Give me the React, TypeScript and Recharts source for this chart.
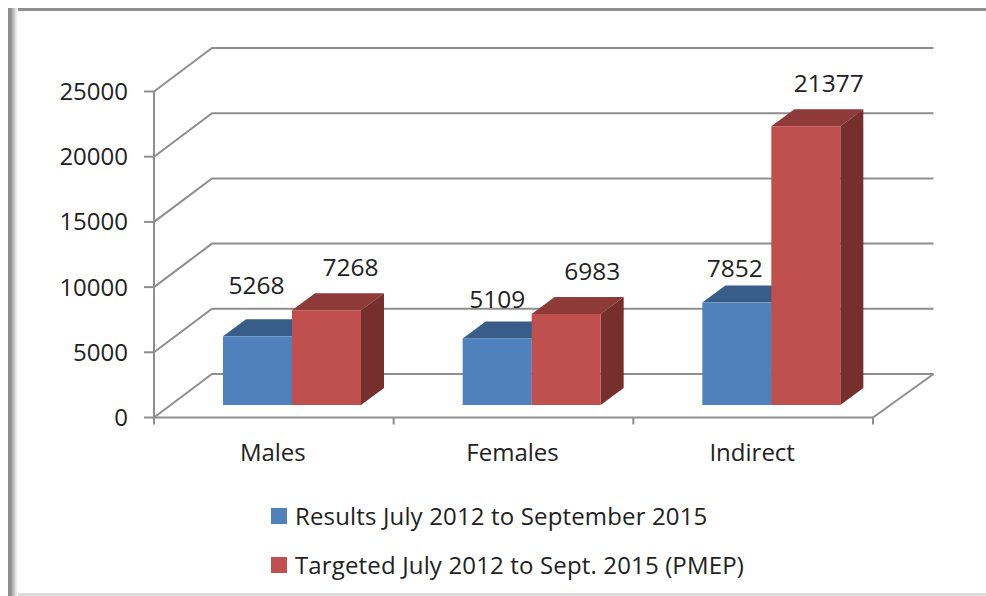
import React from "react";
import { BarChart, Bar, XAxis, YAxis, CartesianGrid, LabelList, Legend } from "recharts";

const categories = ["Males", "Females", "Indirect"];
const resultsValues = [5268, 5109, 7852];
const targetValues = [7268, 6983, 21377];
const yTicks = [0, 5000, 10000, 15000, 20000, 25000];
const seriesNames = ["Results July 2012 to September 2015", "Targeted July 2012 to Sept. 2015 (PMEP)"];

const rows = categories.map((name, i) => ({ name, results: resultsValues[i], target: targetValues[i] }));

const W = 986, H = 596;
const PLOT_L = 154, PLOT_R = 873, PLOT_T = 91.5, PLOT_B = 417.5;
const BAND = (PLOT_R - PLOT_L) / 3;
const WALL_DX = 58, WALL_DY = 43.5, WALL_R = 933.5;
const BAR_DX = 18, BAR_DY = -12.5, DEPTH_X = 23, DEPTH_Y = 17;
const LEGEND_H = 98;
const GRID = "#8e8e8e";
const FONT = "'Open Sans', sans-serif";
const FS = 24;
const INK = "#222";

const blueNudge = [{ dx: -1, dy: -52 }, { dx: 0, dy: -40 }, { dx: -2, dy: -35 }];
const redNudge = [{ dx: 24, dy: -44 }, { dx: 26, dy: -43 }, { dx: 23, dy: -44 }];

function make3D(front: string, top: string, side: string) {
  return (p: any) => {
    const x = p.x + BAR_DX, y = p.y + BAR_DY, w = p.width, h = p.height;
    return (
      <g>
        <polygon points={`${x},${y} ${x + DEPTH_X},${y - DEPTH_Y} ${x + w + DEPTH_X},${y - DEPTH_Y} ${x + w},${y}`} fill={top} />
        <polygon points={`${x + w},${y} ${x + w + DEPTH_X},${y - DEPTH_Y} ${x + w + DEPTH_X},${y + h - DEPTH_Y} ${x + w},${y + h}`} fill={side} />
        <rect x={x} y={y} width={w} height={h} fill={front} />
      </g>
    );
  };
}

function makeLabel(nudge: { dx: number; dy: number }[]) {
  return (p: any) => {
    const n = nudge[p.index] ?? { dx: 0, dy: 0 };
    return (
      <text x={p.x + BAR_DX + p.width / 2 + n.dx} y={p.y + BAR_DY + n.dy} textAnchor="middle" dominantBaseline="central"
        fontFamily={FONT} fontSize={FS + 0.5} fill={INK}>
        {p.value}
      </text>
    );
  };
}

const gridLine = (p: any) => {
  const { x1, y1, index } = p;
  const y = y1;
  const by = y - WALL_DY;
  const bx = x1 + WALL_DX;
  return (
    <g key={`g${index}`}>
      <polyline points={`${x1},${y} ${bx},${by} ${WALL_R},${by}`} fill="none" stroke={GRID} strokeWidth={2} />
      {Math.abs(y - PLOT_B) < 1 && <line x1={WALL_R} y1={by} x2={PLOT_R} y2={y} stroke={GRID} strokeWidth={2} />}
    </g>
  );
};

const CategoryTick = (p: any) => {
  const { x, payload, index } = p;
  const left = x - BAND / 2;
  return (
    <g>
      <line x1={left} y1={PLOT_B} x2={left} y2={PLOT_B + 7} stroke={GRID} strokeWidth={2} />
      {index === categories.length - 1 && (
        <line x1={left + BAND} y1={PLOT_B} x2={left + BAND} y2={PLOT_B + 7} stroke={GRID} strokeWidth={2} />
      )}
      <text x={x - 1} y={451.5} textAnchor="middle" dominantBaseline="central" fontFamily={FONT} fontSize={FS} fill={INK}>
        {payload.value}
      </text>
    </g>
  );
};

const legendColors = ["#4f81bd", "#c0504d"];
const LegendBox = () => (
  <div style={{ fontFamily: FONT, fontSize: FS, color: INK, letterSpacing: 0.15 }}>
    {seriesNames.map((s, i) => (
      <div key={s} style={{ display: "flex", alignItems: "center", height: LEGEND_H / 2, whiteSpace: "nowrap" }}>
        <span style={{ width: 16, height: 16, background: legendColors[i], marginRight: 8, display: "inline-block" }} />
        <span>{s}</span>
      </div>
    ))}
  </div>
);

export default function App() {
  return (
    <div style={{ position: "absolute", left: 0, top: 0, width: W, height: H, background: "#fff", overflow: "hidden" }}>
      <div style={{ position: "absolute", left: 8, top: 8, right: 0, height: 3, background: "#8f8f8f" }} />
      <div style={{ position: "absolute", left: 8, top: 8, bottom: 0, width: 10, background: "linear-gradient(to right,#8a8a8a 0%,#909090 30%,#d8d8d8 70%,#ffffff 100%)" }} />
      <div style={{ position: "absolute", left: 18, right: 0, top: 593, height: 3, background: "#dcdcdc" }} />
      <div style={{ position: "absolute", left: 0, top: 0 }}>
        <BarChart width={W} height={H} data={rows} barSize={69} barGap={0}
          margin={{ top: PLOT_T, left: PLOT_L - 60, right: W - PLOT_R, bottom: H - PLOT_B - 40 - LEGEND_H }}>
          <CartesianGrid vertical={false} horizontal={gridLine} />
          <XAxis dataKey="name" height={40} axisLine={{ stroke: GRID, strokeWidth: 2 }} tickLine={false} tick={CategoryTick} interval={0} />
          <YAxis width={60} domain={[0, 25000]} ticks={yTicks} interval={0} axisLine={{ stroke: GRID, strokeWidth: 2 }}
            tickLine={{ stroke: GRID, strokeWidth: 2 }} tickSize={10} tickMargin={16}
            tick={{ fontFamily: FONT, fontSize: FS, fill: INK }} />
          <Legend layout="vertical" content={LegendBox} wrapperStyle={{ left: 271, top: 491, width: 520 }} />
          <Bar dataKey="results" name={seriesNames[0]} isAnimationActive={false} shape={make3D("#4f81bd", "#385d8a", "#2f5075")}>
            <LabelList dataKey="results" content={makeLabel(blueNudge)} />
          </Bar>
          <Bar dataKey="target" name={seriesNames[1]} isAnimationActive={false} shape={make3D("#c0504d", "#8e3a38", "#772f2d")}>
            <LabelList dataKey="target" content={makeLabel(redNudge)} />
          </Bar>
        </BarChart>
      </div>
    </div>
  );
}
